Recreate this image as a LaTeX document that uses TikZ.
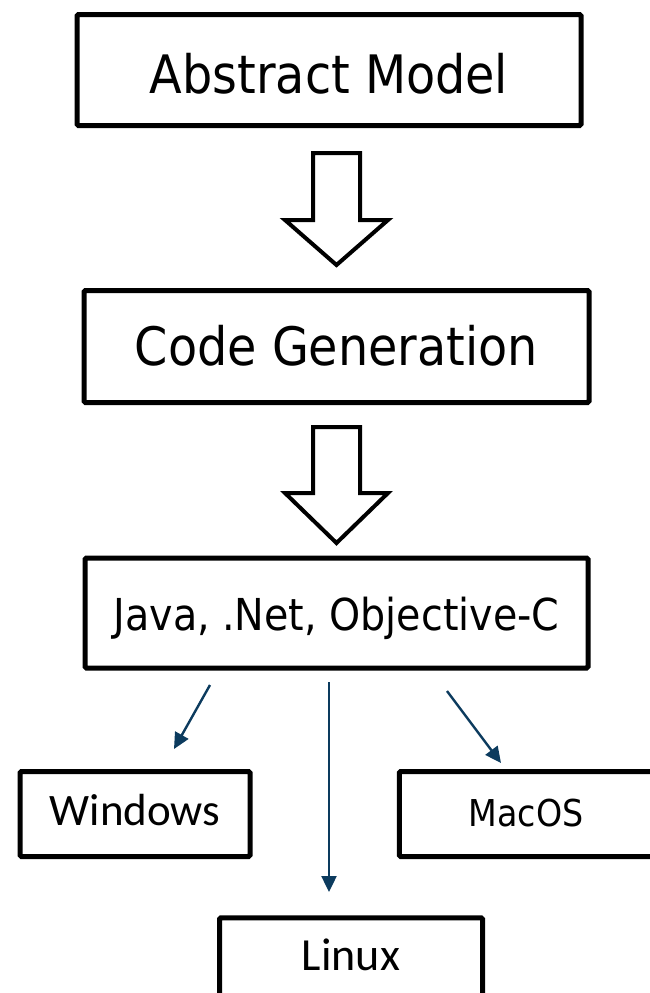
\documentclass[tikz,border=0pt]{standalone}
\usepackage{fontspec}
\setmainfont{DejaVu Sans Condensed}
\newfontfamily\calfont{Carlito}
\usetikzlibrary{arrows.meta}
\definecolor{navy}{RGB}{12,59,94}
\tikzset{
  box/.style={draw=black, line width=5pt, rounded corners=1.5pt, inner sep=0pt, align=center, text depth=0pt},
  blockarrow/.style={draw=black, line width=4pt, fill=white, line join=miter},
  thinarrow/.style={draw=navy, line width=2.4pt, -{Triangle[length=16pt,width=15pt]}},
}
\begin{document}
\begin{tikzpicture}[x=1pt,y=-1pt]
\useasboundingbox (0,0) rectangle (650,993);
\clip (0,0) rectangle (650,993);

\node[box, minimum width=504pt, minimum height=111pt, text height=46pt, font=\fontsize{53}{60}\selectfont] (am) at (329,70) {Abstract Model};
\node[box, minimum width=505pt, minimum height=112pt, text height=37pt, font=\fontsize{53}{60}\selectfont] (cg) at (336.5,346.5) {Code Generation};
\node[box, minimum width=503pt, minimum height=110pt, text height=34pt, font=\fontsize{44}{50}\selectfont] (jv) at (336.5,613) {Java, .Net, Objective-C};
\node[box, minimum width=230pt, minimum height=85pt, text height=22pt, font=\calfont\fontsize{45}{50}\selectfont] (win) at (135,814) {Windows};
\node[box, minimum width=253.5pt, minimum height=85pt, text height=24pt, font=\fontsize{37}{42}\selectfont] (mac) at (526,814) {MacOS};
\node[box, minimum width=263pt, minimum height=86.5pt, text height=18pt, font=\calfont\fontsize{46}{50}\selectfont] (lin) at (351,961) {Linux};

% block arrows
\coordinate (b1) at (336.5,153);
\begin{scope}[shift={(b1)}]
  \draw[blockarrow] (-23.5,0) -- (23.5,0) -- (23.5,67) -- (51.5,67) -- (0,112) -- (-51.5,67) -- (-23.5,67) -- cycle;
\end{scope}
\coordinate (b2) at (336.5,427);
\begin{scope}[shift={(b2)}]
  \draw[blockarrow] (-23.5,0) -- (23.5,0) -- (23.5,66) -- (51.5,66) -- (0,116) -- (-51.5,66) -- (-23.5,66) -- cycle;
\end{scope}

% thin arrows
\coordinate (w0) at (210,685);
\coordinate (w1) at (174,749);
\coordinate (l0) at (329,682);
\coordinate (l1) at (329,892);
\coordinate (m0) at (447,691);
\coordinate (m1) at (501,763);
\draw[thinarrow] (w0) -- (w1);
\draw[thinarrow] (l0) -- (l1);
\draw[thinarrow] (m0) -- (m1);
\end{tikzpicture}
\end{document}
